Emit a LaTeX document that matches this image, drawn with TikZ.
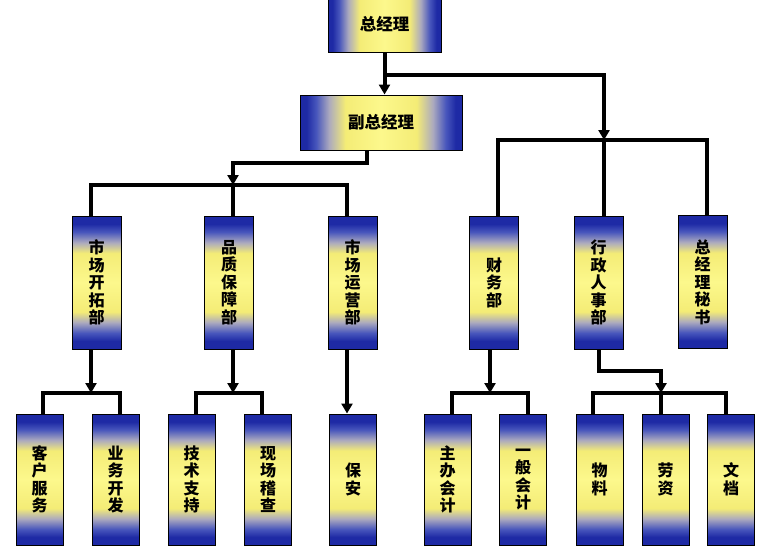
\documentclass[tikz,border=0pt]{standalone}
\usepackage{fontspec}
\newfontfamily\cjk{Noto Sans CJK SC}
\usetikzlibrary{arrows.meta}
\definecolor{bdark}{RGB}{30,42,165}
\definecolor{bblue}{RGB}{72,86,188}
\definecolor{bmid}{RGB}{172,170,190}
\definecolor{ylw}{RGB}{244,236,118}
\definecolor{ylwc}{RGB}{252,248,140}
\pgfdeclareverticalshading{vbar}{100bp}{color(0bp)=(bdark); color(25bp)=(bdark); color(28bp)=(bdark); color(31bp)=(bblue); color(35bp)=(bmid); color(39bp)=(ylw); color(50bp)=(ylwc); color(61bp)=(ylw); color(65bp)=(bmid); color(69bp)=(bblue); color(72bp)=(bdark); color(75bp)=(bdark); color(100bp)=(bdark)}
\pgfdeclarehorizontalshading{hbar}{100bp}{color(0bp)=(bdark); color(25bp)=(bdark); color(27bp)=(bdark); color(30bp)=(bblue); color(34bp)=(bmid); color(39bp)=(ylw); color(50bp)=(ylwc); color(61bp)=(ylw); color(66bp)=(bmid); color(70bp)=(bblue); color(73bp)=(bdark); color(75bp)=(bdark); color(100bp)=(bdark)}
\tikzset{
  hbox/.style={draw=black, line width=1pt, shade, shading=hbar, inner sep=0pt,
    minimum height=55pt, font=\cjk\bfseries\fontsize{16.5}{18}\selectfont},
  vbox/.style={draw=black, line width=1pt, shade, shading=vbar, inner sep=0pt,
    align=center, font=\cjk\bfseries\fontsize{16}{17.5}\selectfont},
  lvtwo/.style={vbox, minimum width=49pt, minimum height=133pt},
  lvthree/.style={vbox, minimum width=47pt, minimum height=131pt},
  conn/.style={line width=4pt, black},
  arr/.style={conn, -{Triangle[width=11pt,length=10pt]}}
}
\begin{document}
\begin{tikzpicture}[x=1pt, y=-1pt]
\useasboundingbox (0,0) rectangle (767,549);
\clip (0,0) rectangle (767,549);
% top level
\node[hbox, minimum width=113pt] (gm) at (384.5,24.5) {总经理};
\node[hbox, minimum width=162pt] (vgm) at (381,122.5) {副总经理};
% second level
\node[lvtwo] (m1) at (96.5,282.5) {市\\场\\开\\拓\\部};
\node[lvtwo] (m2) at (229,282.5) {品\\质\\保\\障\\部};
\node[lvtwo] (m3) at (352.5,282.5) {市\\场\\运\\营\\部};
\node[lvtwo] (f) at (494,282.5) {财\\务\\部};
\node[lvtwo] (a) at (598.5,282.5) {行\\政\\人\\事\\部};
\node[lvtwo] (s) at (702.5,282) {总\\经\\理\\秘\\书};
% third level
\node[lvthree] (c1) at (39.5,479.5) {客\\户\\服\\务};
\node[lvthree] (c2) at (115.5,479.5) {业\\务\\开\\发};
\node[lvthree] (c3) at (191.5,479.5) {技\\术\\支\\持};
\node[lvthree] (c4) at (268,479.5) {现\\场\\稽\\查};
\node[lvthree] (c5) at (353,479.5) {保\\安};
\node[lvthree] (c6) at (447.5,479.5) {主\\办\\会\\计};
\node[lvthree] (c7) at (523,479.5) {一\\般\\会\\计};
\node[lvthree] (c8) at (599.5,479.5) {物\\料};
\node[lvthree] (c9) at (665.5,479.5) {劳\\资};
\node[lvthree] (c10) at (731,479.5) {文\\档};
% junctions
\coordinate (j0) at (385,75);
\coordinate (j1) at (604,140);
\coordinate (j2) at (233,185);
\coordinate (b1) at (91,393);
\coordinate (b2) at (233,393);
\coordinate (b3) at (490,393);
\coordinate (b4) at (661,393);
% connectors
\draw[arr] (gm.south) -- (vgm.north -| gm.south);
\draw[arr] (j0) -| (j1);
\draw[conn] ([xshift=4pt]f.north) |- (j1) -| ([xshift=4.5pt]s.north);
\draw[conn] (j1) -- (j1 |- a.north);
\draw[arr] ([xshift=-14pt]vgm.south) -- ++(0,12) -| (j2);
\draw[conn] ([xshift=-5.5pt]m1.north) |- (j2) -| ([xshift=-5.5pt]m3.north);
\draw[conn] (j2) -- ([xshift=4pt]m2.north);
\draw[arr] ([xshift=-5.5pt]m1.south) -- (b1);
\draw[conn] ([xshift=3.5pt]c1.north) |- (b1) -| ([xshift=4.5pt]c2.north);
\draw[arr] ([xshift=4pt]m2.south) -- (b2);
\draw[conn] ([xshift=4.5pt]c3.north) |- (b2) -| ([xshift=-6pt]c4.north);
\draw[arr] ([xshift=-5.5pt]m3.south) -- ([xshift=-6pt]c5.north);
\draw[arr] ([xshift=-4pt]f.south) -- (b3);
\draw[conn] ([xshift=4.5pt]c6.north) |- (b3) -| ([xshift=5pt]c7.north);
\draw[arr] (a.south) -- ++(0,21) -| (b4);
\draw[conn] ([xshift=-6.5pt]c8.north) |- (b4) -| ([xshift=-5pt]c10.north);
\draw[conn] (b4) -- ([xshift=-4.5pt]c9.north);
\end{tikzpicture}
\end{document}
